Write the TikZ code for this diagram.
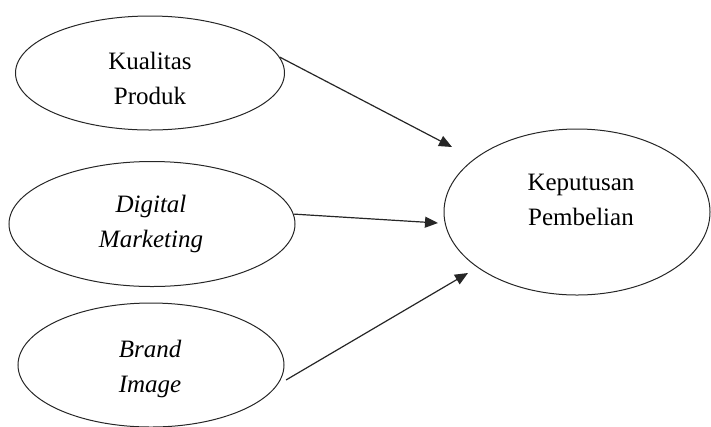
\documentclass[tikz,border=0pt]{standalone}
\usepackage{fontspec}
\setmainfont{Liberation Serif}
\usetikzlibrary{shapes.geometric,arrows.meta}
\begin{document}
\begin{tikzpicture}[x=1bp,y=-1bp,
  oval/.style={draw=black!85,line width=1bp,ellipse,inner sep=0pt},
  lbl/.style={font=\fontsize{25bp}{35bp}\selectfont,align=center,inner sep=0pt},
  conn/.style={draw=black!85,line width=1.2bp,-{Triangle[length=13bp,width=11bp]}}]
\useasboundingbox (0,0) rectangle (711,426);
\node[oval,minimum width=269bp,minimum height=114bp] (e1) at (150,73) {};
\node[oval,minimum width=286bp,minimum height=125bp] (e2) at (152,224) {};
\node[oval,minimum width=266bp,minimum height=124bp] (e3) at (151,365) {};
\node[oval,minimum width=266bp,minimum height=166bp] (e4) at (577,212) {};
\node[lbl] (t1) at (150,78.7) {Kualitas\\Produk};
\node[lbl] (t2) at (151,224.2) {\itshape Digital\\\itshape Marketing};
\node[lbl] (t3) at (150,368.7) {\itshape Brand\\\itshape Image};
\node[lbl] (t4) at (581,200.2) {Keputusan\\Pembelian};
\coordinate (tip1) at (452,147);
\coordinate (tip2) at (438,223);
\coordinate (tip3) at (468,273);
\draw[conn] (e1.7) -- (tip1);
\draw[conn] (e2.4) -- (tip2);
\draw[conn,shorten <=10bp] (e3.-9) -- (tip3);
\end{tikzpicture}
\end{document}
